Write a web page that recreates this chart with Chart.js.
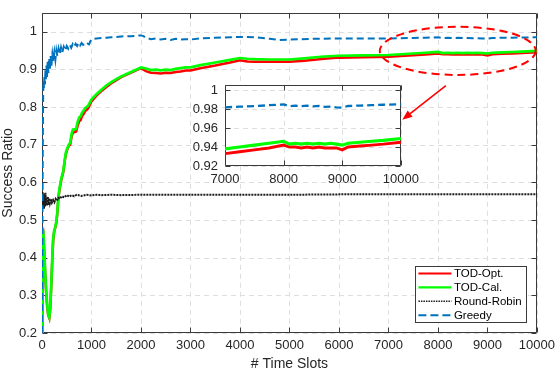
<!DOCTYPE html>
<html><head><meta charset="utf-8">
<script src="https://cdn.jsdelivr.net/npm/chart.js@4.4.0/dist/chart.umd.min.js"></script>
<style>
html,body{margin:0;padding:0;background:#fff;}
#wrap{position:relative;width:560px;height:370px;overflow:hidden;}
#main{position:absolute;left:0;top:0;}
#inset{position:absolute;left:180px;top:70px;}
</style></head><body>
<div id="wrap"><canvas id="main" width="560" height="370"></canvas><canvas id="inset" width="245" height="125"></canvas></div>
<script>
// ---------------- data ----------------
const seriesNames = ['TOD-Opt.', 'TOD-Cal.', 'Round-Robin', 'Greedy'];

const tTOD = [0,10,25,45,65,85,105,125,147,165,185,205,225,245,265,290,310,330,350,375,400,430,460,485,510,540,570,600,625,650,690,720,750,780,810,840,870,900,930,960,1000,1100,1200,1300,1400,1500,1600,1700,1800,1900,2000,2100,2200,2300,2400,2500,2600,2700,2800,2900,3000,3200,3500,3800,4000,4150,4300,4600,5000,5300,5700,6000,6500,7000,7250,7500,7750,8000,8100,8200,8300,8400,8500,8600,8700,8800,8900,9000,9100,9300,9500,9700,10000];

const vOpt = [0.20,0.46,0.465,0.415,0.355,0.305,0.27,0.248,0.24,0.262,0.318,0.385,0.445,0.468,0.478,0.493,0.518,0.556,0.577,0.597,0.612,0.627,0.657,0.677,0.687,0.697,0.70,0.722,0.733,0.733,0.735,0.75,0.762,0.765,0.776,0.781,0.789,0.792,0.796,0.804,0.815,0.83,0.842,0.853,0.863,0.871,0.879,0.885,0.891,0.897,0.903,0.895,0.891,0.890,0.889,0.891,0.890,0.893,0.894,0.897,0.897,0.903,0.910,0.918,0.924,0.921,0.920,0.920,0.920,0.923,0.928,0.931,0.932,0.933,0.935,0.937,0.939,0.942,0.940,0.940,0.939,0.940,0.939,0.940,0.939,0.939,0.939,0.937,0.940,0.941,0.942,0.943,0.945];

const vCal = [0.20,0.47,0.47,0.42,0.36,0.31,0.275,0.25,0.242,0.265,0.32,0.39,0.45,0.47,0.48,0.495,0.52,0.56,0.58,0.60,0.615,0.63,0.66,0.68,0.69,0.70,0.705,0.73,0.74,0.74,0.742,0.76,0.772,0.775,0.785,0.79,0.797,0.80,0.803,0.81,0.82,0.834,0.846,0.857,0.866,0.874,0.881,0.887,0.893,0.899,0.905,0.902,0.898,0.899,0.897,0.899,0.898,0.901,0.903,0.905,0.905,0.911,0.918,0.925,0.930,0.928,0.927,0.926,0.926,0.929,0.934,0.936,0.937,0.938,0.940,0.942,0.944,0.946,0.943,0.944,0.943,0.944,0.943,0.944,0.943,0.944,0.943,0.942,0.944,0.945,0.946,0.947,0.949];

const tRR = [0,10,20,30,40,50,60,70,80,90,100,115,130,145,160,180,200,225,250,275,300,330,360,400,450,500,550,600,650,700,800,900,1000,1100,1200,1400,1600,2000,3000,4000,5000,6000,7000,8000,9000,10000];
const vRR = [0.52,0.575,0.53,0.57,0.53,0.565,0.535,0.572,0.54,0.56,0.538,0.562,0.54,0.558,0.545,0.556,0.546,0.553,0.547,0.556,0.551,0.559,0.556,0.563,0.56,0.566,0.562,0.566,0.563,0.567,0.564,0.567,0.565,0.567,0.566,0.567,0.566,0.567,0.567,0.567,0.567,0.568,0.568,0.568,0.568,0.568];

const tGreedy = [0,8,16,24,32,40,50,60,70,80,90,100,115,130,145,160,175,190,210,230,250,270,290,310,335,360,385,410,440,470,500,530,560,590,620,650,680,710,740,770,800,830,860,890,920,950,980,1000,1100,1200,1300,1400,1500,1600,1700,1800,1900,2000,2050,2100,2200,2300,2400,2500,2600,2700,2800,2900,3000,3200,3500,3800,4000,4300,4600,4800,5000,5500,6000,6500,7000,7250,7500,7750,8000,8100,8200,8300,8400,8500,8600,8700,8800,8900,9000,9100,9300,9500,9700,10000];
const vGreedy = [0.2,0.45,0.70,0.84,0.87,0.85,0.88,0.86,0.90,0.87,0.91,0.88,0.92,0.89,0.93,0.90,0.935,0.91,0.94,0.92,0.945,0.925,0.95,0.935,0.955,0.94,0.958,0.945,0.96,0.95,0.962,0.955,0.965,0.957,0.967,0.96,0.968,0.962,0.97,0.963,0.97,0.965,0.966,0.963,0.968,0.966,0.975,0.98,0.982,0.983,0.984,0.985,0.986,0.987,0.988,0.988,0.989,0.99,0.988,0.984,0.98,0.982,0.979,0.981,0.978,0.981,0.979,0.98,0.979,0.982,0.984,0.985,0.986,0.985,0.981,0.978,0.979,0.981,0.982,0.982,0.9818,0.9825,0.983,0.984,0.9848,0.983,0.9835,0.983,0.9835,0.9828,0.9833,0.9822,0.9826,0.9818,0.9815,0.9832,0.9836,0.984,0.9845,0.985];

const xTicks = [0,1000,2000,3000,4000,5000,6000,7000,8000,9000,10000];
const yTicks = [0.2,0.3,0.4,0.5,0.6,0.7,0.8,0.9,1];
const insetXTicks = [7000,8000,9000,10000];
const insetYTicks = [0.92,0.94,0.96,0.98,1];

// ---------------- helpers ----------------
const FONT = "'Liberation Sans', Arial, Helvetica, sans-serif";
const TXT = '#262626';
const pts = (t, v) => t.map((x, i) => ({x: x, y: v[i]}));
const ptsFrom = (t, v, t0) => {
  const out = [];
  for (let i = 0; i < t.length; i++) {
    if (t[i] >= t0 || (i + 1 < t.length && t[i + 1] > t0)) out.push({x: t[i], y: v[i]});
  }
  return out;
};
const styles = [
  {borderColor: '#ff0000', borderWidth: 2.5, borderDash: [], order: 4},
  {borderColor: '#00ff00', borderWidth: 2.7, borderDash: [], order: 3},
  {borderColor: '#1c1c1c', borderWidth: 2, borderDash: [2, 1], order: 2},
  {borderColor: '#0072bd', borderWidth: 2, borderDash: [7, 4], order: 1}
];
const seriesT = [tTOD, tTOD, tRR, tGreedy];
const seriesV = [vOpt, vCal, vRR, vGreedy];

function makeDatasets(t0, widthScale) {
  return seriesNames.map((name, k) => Object.assign({
    label: name,
    data: t0 == null ? pts(seriesT[k], seriesV[k]) : ptsFrom(seriesT[k], seriesV[k], t0),
    pointRadius: 0, fill: false, tension: 0, spanGaps: true
  }, styles[k], {borderWidth: styles[k].borderWidth * widthScale}));
}

// axes frame: white plot area, dashed grid, box and inward ticks (MATLAB style)
const frame = {
  id: 'frame',
  beforeDatasetsDraw(chart) {
    const {ctx, chartArea: a, scales: {x, y}} = chart;
    ctx.save();
    ctx.fillStyle = '#ffffff';
    ctx.fillRect(a.left, a.top, a.right - a.left, a.bottom - a.top);
    ctx.strokeStyle = '#dedede';
    ctx.lineWidth = 1;
    ctx.setLineDash([5, 4]);
    ctx.beginPath();
    x.ticks.forEach(t => { const p = Math.round(x.getPixelForValue(t.value)) + 0.5; ctx.moveTo(p, a.top); ctx.lineTo(p, a.bottom); });
    y.ticks.forEach(t => { const p = Math.round(y.getPixelForValue(t.value)) + 0.5; ctx.moveTo(a.left, p); ctx.lineTo(a.right, p); });
    ctx.stroke();
    ctx.setLineDash([]);
    ctx.strokeStyle = '#3a3a3a';
    ctx.lineWidth = 1;
    ctx.beginPath();
    const L = Math.round(a.left) + 0.5, R = Math.round(a.right) - 0.5, T = Math.round(a.top) + 0.5, B = Math.round(a.bottom) - 0.5;
    ctx.rect(L, T, R - L, B - T);
    const tl = 5;
    x.ticks.forEach(t => { const p = Math.round(x.getPixelForValue(t.value)) + 0.5; ctx.moveTo(p, B); ctx.lineTo(p, B - tl); ctx.moveTo(p, T); ctx.lineTo(p, T + tl); });
    y.ticks.forEach(t => { const p = Math.round(y.getPixelForValue(t.value)) + 0.5; ctx.moveTo(L, p); ctx.lineTo(L + tl, p); ctx.moveTo(R, p); ctx.lineTo(R - tl, p); });
    ctx.stroke();
    ctx.restore();
  }
};

// zoom-region ellipse and arrow (data units)
const zoomMark = {t: 8400, v: 0.949, dt: 1575, dv: 0.064};
const arrowMark = {t0: 8160, v0: 0.857, t1: 7280, v1: 0.766};
const annot = {
  id: 'annot',
  afterDatasetsDraw(chart) {
    const {ctx, scales: {x, y}} = chart;
    const cx = x.getPixelForValue(zoomMark.t), cy = y.getPixelForValue(zoomMark.v);
    const rx = x.getPixelForValue(zoomMark.t + zoomMark.dt) - cx;
    const ry = y.getPixelForValue(zoomMark.v - zoomMark.dv) - cy;
    ctx.save();
    ctx.strokeStyle = '#ff0000';
    ctx.lineWidth = 2;
    ctx.setLineDash([8, 5]);
    ctx.beginPath();
    ctx.ellipse(cx, cy, rx, ry, 0, 0, Math.PI * 2);
    ctx.stroke();
    ctx.setLineDash([]);
    const x0 = x.getPixelForValue(arrowMark.t0), y0 = y.getPixelForValue(arrowMark.v0);
    const x1 = x.getPixelForValue(arrowMark.t1), y1 = y.getPixelForValue(arrowMark.v1);
    const ang = Math.atan2(y1 - y0, x1 - x0);
    const hl = 10, hw = 4;
    const bx = x1 - hl * Math.cos(ang), by = y1 - hl * Math.sin(ang);
    ctx.lineWidth = 1.6;
    ctx.beginPath(); ctx.moveTo(x0, y0); ctx.lineTo(bx, by); ctx.stroke();
    ctx.fillStyle = '#ff0000';
    ctx.beginPath();
    ctx.moveTo(x1, y1);
    ctx.lineTo(bx + hw * Math.sin(ang), by - hw * Math.cos(ang));
    ctx.lineTo(bx - hw * Math.sin(ang), by + hw * Math.cos(ang));
    ctx.closePath(); ctx.fill();
    ctx.restore();
  }
};

// legend box drawn inside the lower right of the plot area
const legendBox = {
  id: 'legendBox',
  afterDraw(chart) {
    const {ctx, chartArea: a} = chart;
    const W = 111, H = 56;
    const L = a.right - 11 - W, T = a.bottom - 11 - H;
    ctx.save();
    ctx.fillStyle = '#ffffff';
    ctx.fillRect(L, T, W, H);
    ctx.strokeStyle = '#3a3a3a';
    ctx.lineWidth = 1;
    ctx.strokeRect(Math.round(L) + 0.5, Math.round(T) + 0.5, W, H);
    ctx.font = '11.5px ' + FONT;
    ctx.textBaseline = 'middle';
    ctx.fillStyle = '#000';
    chart.data.datasets.forEach((ds, i) => {
      const yy = T + 7.5 + i * 13.9;
      ctx.strokeStyle = ds.borderColor;
      ctx.lineWidth = i < 2 ? 2.2 : (i === 2 ? 1.6 : 2);
      ctx.setLineDash(i === 3 ? [8, 4] : (i === 2 ? [1.5, 1] : []));
      ctx.beginPath(); ctx.moveTo(L + 3.5, yy); ctx.lineTo(L + 36.5, yy); ctx.stroke();
      ctx.setLineDash([]);
      ctx.fillText(ds.label, L + 39, yy + 0.5);
    });
    ctx.restore();
  }
};

function axis(min, max, ticks, opts) {
  return Object.assign({
    type: 'linear', min: min, max: max,
    afterBuildTicks: s => { s.ticks = ticks.map(v => ({value: v})); },
    grid: {display: false, drawTicks: false},
    border: {display: false},
    ticks: {color: TXT, font: {family: FONT, size: 13}, callback: v => String(v), maxRotation: 0, autoSkip: false, padding: 5}
  }, opts);
}

new Chart(document.getElementById('main'), {
  type: 'line',
  data: {datasets: makeDatasets(null, 1)},
  options: {
    responsive: false, animation: false, devicePixelRatio: 1,
    layout: {padding: {top: 1, right: 18, left: 0, bottom: 0}},
    plugins: {legend: {display: false}, tooltip: {enabled: false}},
    scales: {
      x: axis(0, 10000, xTicks, {
        afterFit: s => { s.height = 37; },
        title: {display: true, text: '# Time Slots', color: TXT, font: {family: FONT, size: 14, lineHeight: 1}, padding: {top: 0, bottom: -1}}
      }),
      y: axis(0.2, 1.05, yTicks, {
        afterFit: s => { s.width = 42; },
        title: {display: true, text: 'Success Ratio', color: TXT, font: {family: FONT, size: 14, lineHeight: 1}, padding: {top: 1, bottom: 0}}
      })
    }
  },
  plugins: [frame, annot, legendBox]
});

const insetY = axis(0.92, 1.0055, insetYTicks, {afterFit: s => { s.width = 45; }});
insetY.ticks = Object.assign({}, insetY.ticks, {padding: 7});
const insetX = axis(7000, 10000, insetXTicks, {afterFit: s => { s.height = 29; }});
insetX.ticks = Object.assign({}, insetX.ticks, {padding: 6});

new Chart(document.getElementById('inset'), {
  type: 'line',
  data: {datasets: makeDatasets(7000, 1.15)},
  options: {
    responsive: false, animation: false, devicePixelRatio: 1,
    layout: {padding: {top: 6.7, right: 22.3, left: 0, bottom: 0}},
    plugins: {legend: {display: false}, tooltip: {enabled: false}},
    scales: {x: insetX, y: insetY}
  },
  plugins: [frame]
});
</script>
</body></html>
